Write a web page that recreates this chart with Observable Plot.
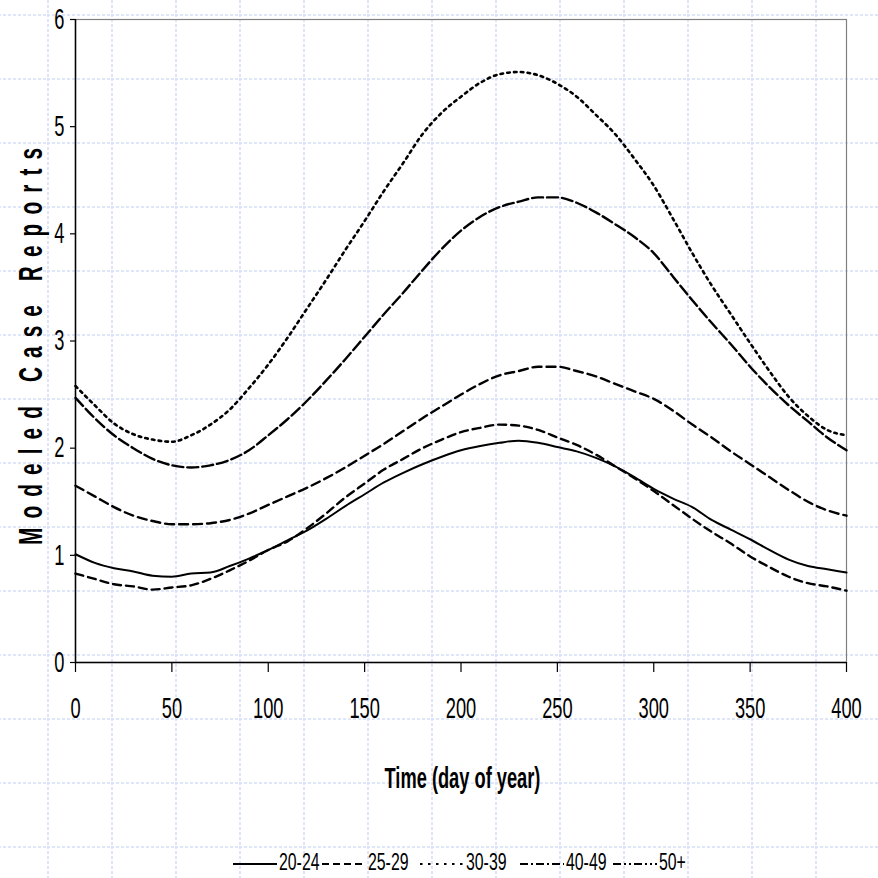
<!DOCTYPE html>
<html><head><meta charset="utf-8">
<script src="https://cdn.jsdelivr.net/npm/d3@7"></script>
<script src="https://cdn.jsdelivr.net/npm/@observablehq/plot@0.6"></script>
<style>
html,body{margin:0;padding:0;width:878px;height:878px;overflow:hidden;
background-color:#fff;
background-image:url("data:image/svg+xml,%3Csvg xmlns='http://www.w3.org/2000/svg' width='64' height='64'%3E%3Cpath d='M0 1H64' stroke='%23d6def9' stroke-width='1.6' stroke-dasharray='3 2'/%3E%3Cpath d='M1 0V64' stroke='%23d6def9' stroke-width='1.6' stroke-dasharray='3 2'/%3E%3C/svg%3E");
background-position:47px 14px;}
svg{display:block}
</style>
</head><body><div id="chart"></div><div id="legend"></div>
<script>
const days = [0,10,20,30,40,50,60,70,80,90,100,110,120,130,140,150,160,170,180,190,200,210,220,230,240,250,260,270,280,290,300,310,320,330,340,350,360,370,380,390,400];
const s2024 = [1.01,0.93,0.88,0.85,0.81,0.80,0.83,0.84,0.90,0.97,1.05,1.14,1.23,1.34,1.46,1.57,1.68,1.77,1.85,1.92,1.98,2.02,2.05,2.07,2.05,2.01,1.97,1.91,1.83,1.73,1.62,1.53,1.45,1.33,1.24,1.15,1.05,0.96,0.90,0.87,0.84];
const s2529 = [0.83,0.78,0.73,0.71,0.68,0.70,0.72,0.78,0.86,0.95,1.05,1.13,1.25,1.39,1.54,1.67,1.80,1.90,2.00,2.08,2.15,2.19,2.22,2.21,2.17,2.10,2.03,1.94,1.83,1.72,1.60,1.47,1.34,1.22,1.11,0.99,0.89,0.80,0.74,0.71,0.67];
const s3039 = [2.58,2.40,2.23,2.13,2.08,2.06,2.12,2.22,2.36,2.56,2.78,3.03,3.30,3.57,3.85,4.12,4.40,4.66,4.93,5.13,5.28,5.41,5.49,5.51,5.48,5.40,5.28,5.11,4.93,4.70,4.45,4.14,3.82,3.52,3.25,2.98,2.72,2.48,2.30,2.17,2.12];
const s4049 = [2.47,2.28,2.12,2.00,1.90,1.84,1.82,1.84,1.89,1.98,2.12,2.27,2.44,2.63,2.83,3.04,3.25,3.45,3.66,3.86,4.03,4.16,4.25,4.30,4.34,4.34,4.29,4.20,4.09,3.97,3.82,3.60,3.38,3.17,2.97,2.76,2.57,2.40,2.25,2.10,1.98];
const s50 = [1.65,1.55,1.45,1.37,1.32,1.29,1.29,1.30,1.33,1.39,1.47,1.55,1.63,1.72,1.82,1.93,2.04,2.16,2.28,2.39,2.50,2.60,2.68,2.72,2.76,2.76,2.72,2.67,2.60,2.53,2.46,2.35,2.22,2.10,1.97,1.85,1.73,1.61,1.50,1.42,1.37];
const seriesNames = ["20-24","25-29","30-39","40-49","50+"];
const seriesValues = [s2024, s2529, s3039, s4049, s50];
const xTicks = [0,50,100,150,200,250,300,350,400];
const yTicks = [0,1,2,3,4,5,6];
const xTitle = "Time (day of year)";
const yTitle = "Modeled Case Reports";

// line styles (plot appearance)
const plotDash = [null, "8,5", "2.6,4.2", "11,4", "9,5"];
const plotWidth = [2, 2.4, 2.6, 2.4, 2.4];
// legend sample styles
const legDash = [null, "7,4", "2.5,5.5", "8,3,2,3", "8,3,2,3,2,3"];

const data = seriesNames.flatMap((name, k) => days.map((d, i) => ({day: d, value: seriesValues[k][i], series: name})));

const FONT = "'Liberation Sans', Arial, sans-serif";
const SX = 0.63;

const chart = Plot.plot({
  width: 878, height: 845,
  marginLeft: 75, marginRight: 32, marginTop: 19, marginBottom: 183,
  style: {background: "transparent", fontFamily: FONT, overflow: "visible"},
  x: {domain: [0, 400]},
  y: {domain: [0, 6]},
  marks: [
    Plot.frame({stroke: "#808080", strokeWidth: 1.2}),
    ...seriesNames.map((name, k) => Plot.line(data.filter(d => d.series === name), {
      x: "day", y: "value", stroke: "black", strokeWidth: plotWidth[k],
      strokeDasharray: plotDash[k], curve: "monotone-x"
    })),
    Plot.ruleX([0], {stroke: "black", strokeWidth: 1.5}),
    Plot.ruleY([0], {stroke: "black", strokeWidth: 1.5}),
    Plot.axisX({ticks: xTicks, tickFormat: d => String(d), tickSize: 10, tickPadding: 25, fontSize: 29, label: null, strokeWidth: 1.2}),
    Plot.axisY({ticks: yTicks, tickFormat: d => String(d), tickSize: 5, tickPadding: 6, fontSize: 29, label: null, strokeWidth: 1.2}),
    Plot.text([xTitle], {frameAnchor: "bottom", dx: 1.5, dy: 125, lineAnchor: "bottom", fontSize: 29, fontWeight: "bold", fill: "black"}),
    Plot.text([yTitle], {frameAnchor: "left", rotate: -90, dx: -34, dy: 204, textAnchor: "start", lineAnchor: "bottom", fontSize: 33, fontWeight: "bold", fill: "black"})
  ]
});
d3.select(chart).selectAll("text").each(function() {
  const t = this.getAttribute("transform");
  if (t && t.startsWith("translate")) this.setAttribute("transform", t + ` scale(${SX},1)`);
});
d3.select(chart).selectAll("text").filter(function(){ return this.textContent === yTitle; })
  .attr("textLength", 397 / SX).attr("lengthAdjust", "spacing");
document.getElementById("chart").appendChild(chart);

// legend
const legX = [233, 322, 420, 520, 613];
const leg = d3.select("#legend").append("svg").attr("width", 878).attr("height", 33)
  .style("font-family", FONT);
seriesNames.forEach((name, k) => {
  const x0 = legX[k];
  leg.append("line").attr("x1", x0).attr("x2", x0 + 44).attr("y1", 19).attr("y2", 19)
    .attr("stroke", "black").attr("stroke-width", 2).attr("stroke-dasharray", legDash[k]);
  leg.append("text").attr("transform", `translate(${x0 + 46},25) scale(0.66,1)`)
    .attr("font-size", 24).attr("fill", "black").text(name);
});
</script></body></html>
